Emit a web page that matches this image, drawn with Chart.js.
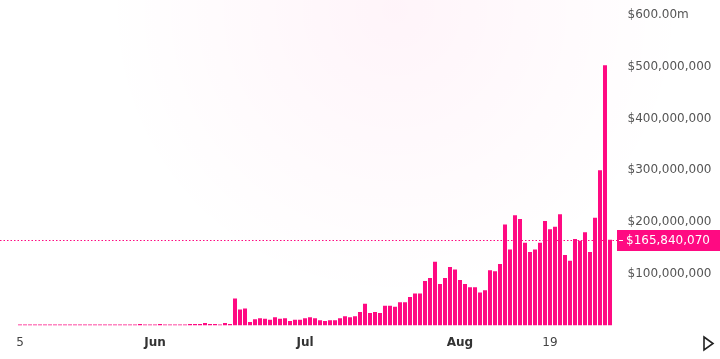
<!DOCTYPE html>
<html>
<head>
<meta charset="utf-8">
<script src="https://cdn.jsdelivr.net/npm/chart.js@4/dist/chart.umd.min.js"></script>
<style>
html,body{margin:0;padding:0;background:#fff;}
canvas{display:block;}
</style>
</head>
<body>
<canvas id="c" width="720" height="359"></canvas>
<script>
// Daily categories: 5 May .. 31 Aug
const startDate = [2024, 4, 5];
const dayCount = 119;
// Daily value in millions of USD
const values = [
  1.0,1.0,1.1,1.0,0.9,1.0,1.0,1.1,1.0,1.0,1.0,1.0,1.1,1.0,1.0,1.0,1.0,1.0,1.1,1.0,1.0,1.0,1.0,1.0,
  3,1.5,1.5,1.5,3,1.5,1.5,1.5,1.5,1.5,3,3,3,5,3,3,1.5,5,3,
  52,31,33,7,12,14,13,11,16,13,14,8.5,11,11,14,16,14,10,8.5,10,10,14,18,16,18,26,
  42,24,26,24,38,38,36,45,45,55,62,62,86,92,123,80,92,113,108,88,80,74,74,64,68,
  107,105,119,195,147,213,206,160,142,147,160,202,186,191,215,136,125,167,164,180,142,
  208,300,503,165.84007
];
const currentValue = 165840070;
// x tick labels (category index -> text)
const tickIndex = [0, 27, 57, 88, 106];
const tickText  = ['5', 'Jun', 'Jul', 'Aug', '19'];
const tickBold  = [false, true, true, true, false];
const yTicks = [100e6, 200e6, 300e6, 400e6, 500e6, 600e6];

const categories = [];
for (let i = 0; i < dayCount; i++) {
  const d = new Date(startDate[0], startDate[1], startDate[2] + i);
  categories.push(d.toISOString().slice(0, 10));
}
const data = values.map(v => v * 1e6);

const PINK = '#ff0a82';
const FONT = 'DejaVu Sans';

const bgPlugin = {
  id: 'bg',
  beforeDraw(chart) {
    const ctx = chart.ctx;
    ctx.save();
    ctx.fillStyle = '#fff';
    ctx.fillRect(0, 0, chart.width, chart.height);
    const g = ctx.createRadialGradient(395, 10, 0, 395, 10, 290);
    g.addColorStop(0, 'rgba(255,0,128,0.045)');
    g.addColorStop(1, 'rgba(255,0,128,0)');
    ctx.fillStyle = g;
    ctx.fillRect(0, 0, chart.width, chart.height);
    ctx.restore();
  }
};

const currentPlugin = {
  id: 'current',
  afterDatasetsDraw(chart) {
    const ctx = chart.ctx;
    const y = Math.round(chart.scales.y.getPixelForValue(currentValue)) + 0.5;
    ctx.save();
    ctx.strokeStyle = PINK;
    ctx.lineWidth = 1;
    ctx.setLineDash([1.5, 2]);
    ctx.beginPath();
    ctx.moveTo(0, y);
    ctx.lineTo(617, y);
    ctx.stroke();
    ctx.setLineDash([]);
    // label box
    ctx.fillStyle = PINK;
    ctx.fillRect(617, y - 10.5, 103, 21);
    ctx.strokeStyle = '#fff';
    ctx.beginPath();
    ctx.moveTo(619, y);
    ctx.lineTo(623, y);
    ctx.stroke();
    ctx.fillStyle = '#fff';
    ctx.font = '12px "' + FONT + '"';
    ctx.textAlign = 'left';
    ctx.textBaseline = 'middle';
    ctx.fillText('$' + currentValue.toLocaleString('en-US'), 626, y + 0.5);
    // play triangle
    ctx.strokeStyle = '#222';
    ctx.lineWidth = 1.6;
    ctx.beginPath();
    ctx.moveTo(704, 337);
    ctx.lineTo(713, 343.5);
    ctx.lineTo(704, 350);
    ctx.closePath();
    ctx.stroke();
    ctx.restore();
  }
};

new Chart(document.getElementById('c'), {
  type: 'bar',
  data: {
    labels: categories,
    datasets: [{
      data: data,
      backgroundColor: PINK,
      borderWidth: 0,
      barPercentage: 0.8,
      categoryPercentage: 1.0,
      minBarLength: 1
    }]
  },
  options: {
    responsive: false,
    animation: false,
    devicePixelRatio: 1,
    layout: { padding: { left: 17.5, top: 15, right: 0, bottom: 0 } },
    plugins: { legend: { display: false }, tooltip: { enabled: false } },
    scales: {
      x: {
        grid: { display: false, drawTicks: false },
        border: { display: false },
        afterFit(s) { s.height = 33.5; s.paddingLeft = 0; s.paddingRight = 0; },
        ticks: {
          autoSkip: false,
          maxRotation: 0,
          padding: 10,
          color: (c) => {
            const k = tickIndex.indexOf(c.index);
            return (k >= 0 && tickBold[k]) ? '#333' : '#444';
          },
          font: (c) => {
            const k = tickIndex.indexOf(c.index);
            return { family: FONT, size: 12, weight: (k >= 0 && tickBold[k]) ? 'bold' : 'normal' };
          },
          callback: (v, i) => {
            const k = tickIndex.indexOf(i);
            return k >= 0 ? tickText[k] : '';
          }
        }
      },
      y: {
        position: 'right',
        min: 0,
        max: 600e6,
        grid: { display: false, drawTicks: false },
        border: { display: false },
        afterFit(s) { s.width = 107.5; s.paddingTop = 0; s.paddingBottom = 0; },
        afterBuildTicks(s) { s.ticks = [0].concat(yTicks).map(v => ({ value: v })); },
        ticks: {
          padding: 15,
          color: '#555',
          font: { family: FONT, size: 12 },
          callback: (v) => {
            if (v === 0) return '';
            if (v === 600e6) return '$600.00m';
            return '$' + v.toLocaleString('en-US');
          }
        }
      }
    }
  },
  plugins: [bgPlugin, currentPlugin]
});
</script>
</body>
</html>
